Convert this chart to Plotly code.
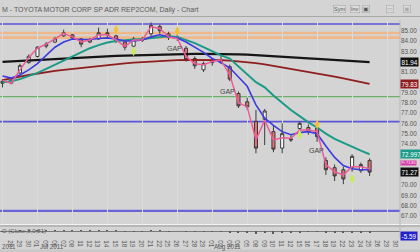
import plotly.graph_objects as go

# ---------------- data ----------------
dates = ["27","28","29","30","01","05","06","07","08","11","12","13","14","15","18","19","20","21","22","25","26","27","28","29",
         "01","02","03","04","05","08","09","10","11","12","15","16","17","18","19","22","23","24","25","26","29","30"]

opens  = [80.1,79.9,80.9,81.9,82.5,83.5,83.9,84.5,84.6,84.2,83.9,84.2,84.8,84.5,83.9,83.5,84.2,84.7,85.4,84.7,84.4,
          83.3,82.3,81.2,81.9,82.1,81.5,78.9,78.1,76.2,76.4,75.2,73.6,74.5,75.5,75.6,75.55,72.4,71.7,71.5,71.7,71.4,72.4]
highs  = [80.3,80.3,81.8,82.7,83.5,83.9,84.4,85.1,84.7,84.3,84.3,85.3,85.2,84.6,84.0,84.4,84.4,85.8,85.6,84.9,84.7,
          83.5,82.5,82.0,82.3,82.6,81.7,79.1,78.5,77.3,77.4,75.8,76.0,74.85,76.2,75.9,75.7,72.7,72.0,71.8,73.0,72.2,72.6]
lows   = [79.5,79.8,80.8,81.8,82.4,83.3,83.8,84.4,84.1,83.4,83.8,84.1,84.3,83.8,83.1,83.3,83.9,84.5,84.7,84.1,84.0,
          82.0,81.3,81.0,81.6,81.8,80.1,77.5,77.3,73.1,73.9,73.2,73.1,74.2,75.3,74.9,74.2,71.0,70.4,70.1,71.3,71.2,70.9]
closes = [79.9,80.2,81.6,82.5,83.4,83.7,84.2,84.8,84.3,83.7,84.1,84.8,84.6,84.0,83.4,84.2,84.1,85.5,85.0,84.4,84.3,
          82.2,81.6,81.8,82.0,81.9,80.3,77.7,77.6,73.6,77.2,73.5,75.0,74.4,76.0,75.2,74.7,71.5,70.9,70.6,72.8,72.0,71.27]

pink_line = [80.2,79.9,81.2,82.4,83.3,83.7,84.2,84.75,84.4,83.9,84.1,84.6,84.6,84.1,83.45,84.1,84.1,85.4,85.2,84.4,84.25,
             82.5,81.8,81.7,82.0,82.15,80.7,78.0,77.6,74.4,76.3,74.4,74.6,74.55,75.35,75.35,75.2,72.0,71.3,71.0,71.8,71.8,71.6]
blue_ema  = [80.6,80.4,80.7,81.2,81.8,82.6,83.4,83.9,84.2,84.15,84.15,84.25,84.3,84.2,84.0,84.0,84.1,84.4,84.6,84.4,84.3,
             83.9,83.4,82.9,82.3,81.9,81.4,80.5,79.6,77.8,76.5,75.8,75.2,74.9,75.1,75.2,75.0,73.8,72.7,71.9,71.6,71.5,71.5]
teal_ema  = [80.0,80.1,80.3,80.6,80.9,81.3,81.7,82.1,82.5,82.9,83.3,83.6,83.85,84.0,84.1,84.15,84.2,84.3,84.4,84.45,84.4,
             84.1,83.8,83.4,83.0,82.6,82.3,81.5,80.7,80.0,79.5,78.7,78.0,77.3,76.7,76.1,75.6,75.0,74.5,74.1,73.75,73.35,73.0]
red_ma    = [80.2,80.4,80.55,80.7,80.85,81.0,81.1,81.2,81.3,81.4,81.5,81.6,81.68,81.76,81.83,81.9,81.96,82.02,82.07,82.11,82.14,
             82.16,82.17,82.17,82.16,82.14,82.1,82.04,81.96,81.86,81.74,81.6,81.45,81.3,81.15,81.0,80.85,80.7,80.55,80.38,80.2,80.02,79.83]
black_ma  = [81.97,82.02,82.07,82.12,82.17,82.22,82.27,82.32,82.36,82.4,82.44,82.48,82.52,82.55,82.58,82.61,82.64,82.67,82.69,82.71,82.73,
             82.74,82.75,82.75,82.75,82.74,82.72,82.7,82.67,82.63,82.59,82.54,82.49,82.44,82.38,82.32,82.26,82.2,82.14,82.08,82.03,81.98,81.94]

roc = [-0.5,-0.8,0.6,1.2,2.0,2.4,2.9,3.3,2.8,1.6,1.0,1.1,0.9,0.2,-0.6,-0.2,-0.4,1.0,0.7,-0.2,0.0,
       -2.3,-3.1,-3.3,-2.9,-2.6,-4.8,-7.6,-8.0,-10.3,-8.6,-10.1,-8.3,-7.8,-4.6,-3.7,-3.1,-6.0,-6.6,-6.9,-4.9,-5.0,-5.59]

yellow_idx = [13, 20, 36]
yellow_val = [85.1, 84.95, 75.9]
green_idx = [15, 34, 40]
green_val = [83.0, 74.9, 70.6]

gap_idx = [19.7, 25.7, 35.9]
gap_val = [83.3, 79.1, 73.4]

level_vals   = [85.65, 84.78, 84.33, 78.6, 76.17, 67.5]
level_colors = ["#5a55d8", "#f0b888", "#f0b888", "#6cae6c", "#5a55d8", "#6a64d8"]
level_widths = [1.6, 2.6, 2.6, 1.4, 1.6, 2.2]

price_ticks = [67, 68, 69, 70, 74, 75, 76, 77, 78, 79, 81, 83, 84, 85]
value_boxes = [(81.94, "81.94", "#111111"), (79.83, "79.83", "#8e1e1e"),
               (72.997, "72.997", "#1c9a88"), (71.27, "71.27", "#111111")]

# ---------------- figure ----------------
W, H = 420, 252
idx = list(range(len(closes)))
all_idx = list(range(len(dates)))
px = lambda p: p / W
py = lambda p: 1 - p / H

fig = go.Figure()

fig.add_trace(go.Scatter(x=idx, y=black_ma, mode="lines", line=dict(color="#151515", width=2.2), hoverinfo="skip"))
fig.add_trace(go.Scatter(x=idx, y=red_ma, mode="lines", line=dict(color="#8e1e1e", width=1.8), hoverinfo="skip"))
fig.add_trace(go.Scatter(x=idx, y=teal_ema, mode="lines", line=dict(color="#1c9a88", width=2.0), hoverinfo="skip"))
fig.add_trace(go.Scatter(x=idx, y=blue_ema, mode="lines", line=dict(color="#3d3ae0", width=1.6), hoverinfo="skip"))
fig.add_trace(go.Scatter(x=idx, y=pink_line, mode="lines", line=dict(color="#ec5c98", width=1.5), hoverinfo="skip"))

fig.add_trace(go.Candlestick(
    x=idx, open=opens, high=highs, low=lows, close=closes,
    increasing=dict(line=dict(color="#3a3a3a", width=1), fillcolor="#ffffff"),
    decreasing=dict(line=dict(color="#3a3a3a", width=1), fillcolor="#e27272"),
    whiskerwidth=0, hoverinfo="skip"))

fig.add_trace(go.Scatter(x=yellow_idx, y=yellow_val, mode="markers",
                         marker=dict(symbol="diamond-tall", size=7, color="#f4c030", line=dict(width=0)), hoverinfo="skip"))
fig.add_trace(go.Scatter(x=green_idx, y=green_val, mode="markers",
                         marker=dict(symbol="diamond-tall", size=7, color="#c8ec5a", line=dict(width=0)), hoverinfo="skip"))

fig.add_trace(go.Bar(x=idx, y=roc, width=0.12, marker=dict(color="#5a5a5a", line=dict(width=0)),
                     xaxis="x2", yaxis="y2", hoverinfo="skip"))

x_range = [-2.5 / 8.74, (400 - 2.5) / 8.74]
plot_right = px(400)

shapes = []
for v, c, w in zip(level_vals, level_colors, level_widths):
    shapes.append(dict(type="line", xref="paper", yref="y", x0=0, x1=plot_right, y0=v, y1=v,
                       line=dict(color=c, width=w), layer="below"))
shapes.append(dict(type="line", xref="paper", yref="paper", x0=0, x1=1, y0=py(16.5), y1=py(16.5),
                   line=dict(color="#a8a8a8", width=1)))
shapes.append(dict(type="line", xref="paper", yref="paper", x0=0, x1=1, y0=py(224.5), y1=py(224.5),
                   line=dict(color="#f2f2f2", width=1)))
shapes.append(dict(type="line", xref="paper", yref="paper", x0=0, x1=1, y0=py(226), y1=py(226),
                   line=dict(color="#9a9a9a", width=1)))
shapes.append(dict(type="line", xref="paper", yref="paper", x0=plot_right, x1=plot_right, y0=py(238), y1=py(20),
                   line=dict(color="#b8b8b8", width=1)))
shapes.append(dict(type="rect", xref="paper", yref="paper", x0=0, x1=1, y0=0, y1=py(249.5),
                   line=dict(width=0), fillcolor="#c8c8c8"))

annotations = []
annotations.append(dict(xref="paper", yref="paper", x=0, y=py(10), xanchor="left", yanchor="middle",
                        text="M - TOYOTA MOTOR CORP SP ADR REP2COM, Daily - Chart", showarrow=False,
                        font=dict(size=7, color="#5a5a5a", family="Liberation Sans")))
for xp, t in [(339, "Sym"), (355, "Inv"), (366, "▣"), (390, "▭"), (407, "▣")]:
    annotations.append(dict(xref="paper", yref="paper", x=px(xp), y=py(9.5), xanchor="center", yanchor="middle",
                            text=t, showarrow=False, bgcolor="#dcdcdc", bordercolor="#a0a0a0", borderwidth=0.5,
                            borderpad=0.5, font=dict(size=5.5, color="#555555" if xp < 380 else "#aaaaaa",
                                                     family="Liberation Sans")))
for gx, gy in zip(gap_idx, gap_val):
    annotations.append(dict(x=gx, y=gy, xref="x", yref="y", text="GAP", showarrow=False,
                            font=dict(size=7, color="#444444", family="Liberation Sans")))
for v, t, c in value_boxes:
    annotations.append(dict(xref="paper", yref="y", x=px(400), y=v, xanchor="left", yanchor="middle",
                            text=t, showarrow=False, bgcolor=c, borderpad=0.6,
                            font=dict(size=6.3, color="white", family="Liberation Sans")))
annotations.append(dict(xref="paper", yref="y", x=px(400), y=72.2, xanchor="left", yanchor="middle",
                        text="Pr 71.80", showarrow=False, bgcolor="#d83aa8", borderpad=0.2,
                        font=dict(size=3.8, color="white", family="Liberation Sans")))
annotations.append(dict(xref="paper", yref="paper", x=px(400), y=py(235.5), xanchor="left", yanchor="middle",
                        text="-5.59", showarrow=False, bgcolor="#2222c8", borderpad=0.6,
                        font=dict(size=6.3, color="white", family="Liberation Sans")))
annotations.append(dict(xref="paper", yref="paper", x=0, y=py(230.5), xanchor="left", yanchor="middle",
                        text="O (Close,8,0,81)", showarrow=False,
                        font=dict(size=6, color="#555555", family="Liberation Sans")))
for xp, t in [(0, "2011"), (38, "Jul 2011"), (212, "Aug 2011")]:
    annotations.append(dict(xref="paper", yref="paper", x=px(xp), y=py(246.5), xanchor="left", yanchor="middle",
                            text=t, showarrow=False, font=dict(size=6.3, color="#5a5a5a", family="Liberation Sans")))

fig.update_layout(
    width=W, height=H, margin=dict(l=0, r=0, t=0, b=0),
    paper_bgcolor="#d4d4d4", plot_bgcolor="#d4d4d4",
    showlegend=False, boxgap=0.5, bargap=0,
    shapes=shapes, annotations=annotations,
    xaxis=dict(domain=[0, plot_right], range=x_range, showticklabels=False, ticks="",
               tickvals=list(range(0, 46, 4)), showgrid=True, gridcolor="#dbdbdb", gridwidth=1,
               zeroline=False, rangeslider=dict(visible=False), fixedrange=True),
    yaxis=dict(domain=[py(224), py(20)], range=[66.23, 86.04], side="right",
               tickvals=price_ticks, ticktext=[f"{v:.2f}" for v in price_ticks],
               tickfont=dict(size=6.3, color="#555555", family="Liberation Sans"),
               showgrid=False, zeroline=False, ticks=""),
    xaxis2=dict(domain=[0, plot_right], range=x_range, anchor="y2", matches="x",
                tickvals=all_idx, ticktext=dates, ticks="", showgrid=False, zeroline=False,
                tickfont=dict(size=6.3, color="#5a5a5a", family="Liberation Sans"), ticklabelstandoff=-1),
    yaxis2=dict(domain=[py(237), py(226)], range=[-24, 20], showticklabels=False, showgrid=False,
                zeroline=True, zerolinecolor="#7a7a7a", zerolinewidth=1, ticks=""),
)

fig.write_html("out.html")
